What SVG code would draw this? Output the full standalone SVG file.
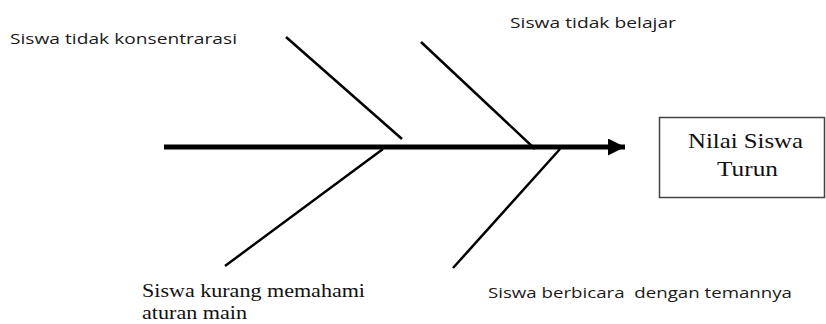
<svg xmlns="http://www.w3.org/2000/svg" width="826" height="324" viewBox="0 0 826 324">
<style>
.bone{stroke:#000;stroke-width:2.5;fill:none}
.sans{font-family:"Open Sans","Liberation Sans",sans-serif;font-size:15px;fill:#1a1a1a}
.serif{font-family:"Liberation Serif","Times New Roman",serif;fill:#111}
.big{font-size:22px}
.mid{font-size:19px}
</style>
<defs>
<marker id="ah" viewBox="0 0 10 10" refX="10" refY="5" markerWidth="3.6" markerHeight="3.4" orient="auto" markerUnits="strokeWidth">
<path d="M0,0 L10,5 L0,10 Z" fill="#000"/>
</marker>
</defs>
<rect width="826" height="324" fill="#fff"/>
<g id="connectors">
<line x1="164" y1="147" x2="625" y2="147" stroke="#000" stroke-width="5" marker-end="url(#ah)"/>
<line class="bone" x1="286" y1="37" x2="402" y2="139"/>
<line class="bone" x1="421" y1="42" x2="535" y2="149"/>
<line class="bone" x1="383" y1="149" x2="225" y2="266"/>
<line class="bone" x1="560" y1="149" x2="453" y2="268"/>
</g>
<g id="effect">
<rect x="659.5" y="117.5" width="165" height="80" fill="#fff" stroke="#444" stroke-width="1.5"/>
<text class="serif big" x="688" y="148" textLength="115" lengthAdjust="spacingAndGlyphs">Nilai Siswa</text>
<text class="serif big" x="717" y="176" textLength="61" lengthAdjust="spacingAndGlyphs">Turun</text>
</g>
<g id="cause1">
<text class="sans" x="10" y="44" textLength="227" lengthAdjust="spacingAndGlyphs">Siswa tidak konsentrarasi</text>
</g>
<g id="cause2">
<text class="sans" x="510" y="28" textLength="166" lengthAdjust="spacingAndGlyphs">Siswa tidak belajar</text>
</g>
<g id="cause3">
<text class="serif mid" x="142" y="297" textLength="223" lengthAdjust="spacingAndGlyphs">Siswa kurang memahami</text>
<text class="serif mid" x="142" y="319" textLength="105" lengthAdjust="spacingAndGlyphs">aturan main</text>
</g>
<g id="cause4">
<text class="sans" x="488" y="298" textLength="304" lengthAdjust="spacingAndGlyphs" xml:space="preserve">Siswa berbicara  dengan temannya</text>
</g>
</svg>
